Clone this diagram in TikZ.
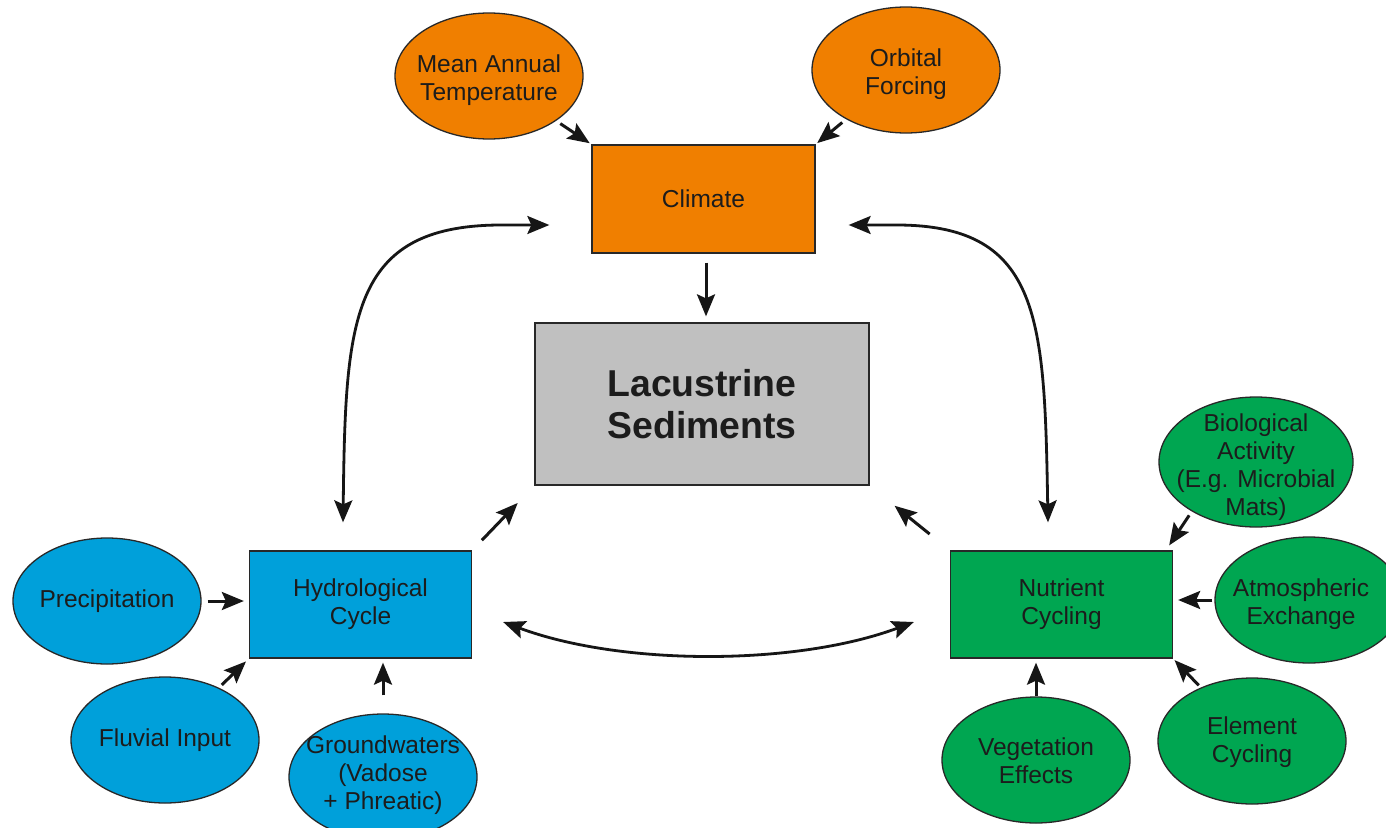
\documentclass[tikz,border=0pt]{standalone}
\usepackage{fontspec}
\setmainfont{Liberation Sans}
\usetikzlibrary{shapes.geometric,arrows.meta,calc}

\definecolor{climorange}{RGB}{240,127,0}
\definecolor{hydroblue}{RGB}{0,160,218}
\definecolor{nutgreen}{RGB}{0,166,81}
\definecolor{sedgray}{RGB}{192,192,192}
\definecolor{edgegray}{RGB}{40,40,40}
\definecolor{ink}{RGB}{28,28,28}
\definecolor{arrowink}{RGB}{22,22,22}

\begin{document}
\begin{tikzpicture}[x=1pt,y=-1pt,
  every node/.style={text=ink, align=center, font=\fontsize{24.5}{28}\selectfont},
  factor/.style={ellipse, draw=edgegray, line width=1.3pt, minimum width=188pt,
                 minimum height=126pt, inner sep=0pt},
  label text/.style={inner sep=0pt},
  process/.style={rectangle, draw=edgegray, line width=1.3pt, minimum width=222pt,
                  minimum height=107pt, inner sep=0pt},
  arr/.style={-{Stealth[length=22pt,width=18pt,inset=4pt]}, line width=3pt, draw=arrowink},
  dblarr/.style={{Stealth[length=22pt,width=18pt,inset=4pt]}-{Stealth[length=22pt,width=18pt,inset=4pt]},
                 line width=2.8pt, draw=arrowink}
]
\useasboundingbox (0,0) rectangle (1386,827);
\clip (0,0) rectangle (1386,827);
\fill[white] (0,0) rectangle (1386,827);

% --- climate block ---
\node[process, fill=climorange, minimum width=223pt, minimum height=108pt] (climate) at (703.5,199) {Climate};
\node[factor, fill=climorange] (mat) at (489,76) {};
\node[label text] (matT) at (489,80) {Mean Annual\\Temperature};
\node[factor, fill=climorange] (orb) at (906,70) {};
\node[label text] (orbT) at (906,74) {Orbital\\Forcing};

% --- central sediments box ---
\node[process, fill=sedgray, minimum width=334pt, minimum height=162pt,
      font=\bfseries\fontsize{37.4}{42}\selectfont] (lac) at (702,404) {Lacustrine\\Sediments};

% --- hydrological block ---
\node[process, fill=hydroblue] (hydro) at (360.5,604.5) {Hydrological\\Cycle};
\node[factor, fill=hydroblue] (precip) at (107,601) {};
\node[label text] (precipT) at (107,601) {Precipitation};
\node[factor, fill=hydroblue] (fluvial) at (165,740) {};
\node[label text] (fluvialT) at (165,740) {Fluvial Input};
\node[factor, fill=hydroblue] (ground) at (383,777) {};
\node[label text] (groundT) at (383,775) {Groundwaters\\(Vadose\\+ Phreatic)};

% --- nutrient block ---
\node[process, fill=nutgreen] (nutrient) at (1061.5,604.5) {Nutrient\\Cycling};
\node[factor, fill=nutgreen, minimum width=194pt, minimum height=130pt] (bio) at (1256,462) {};
\node[label text] (bioT) at (1256,467) {Biological\\Activity\\(E.g. Microbial\\Mats)};
\node[factor, fill=nutgreen] (atmos) at (1309,600) {};
\node[label text] (atmosT) at (1301,604) {Atmospheric\\Exchange};
\node[factor, fill=nutgreen] (element) at (1252,741) {};
\node[label text] (elementT) at (1252,742) {Element\\Cycling};
\node[factor, fill=nutgreen] (veg) at (1036,760) {};
\node[label text] (vegT) at (1036,761) {Vegetation\\Effects};

% --- drivers of climate ---
\draw[arr, shorten <=5pt, shorten >=2pt] (mat) -- (climate.north west);
\draw[arr, shorten <=5pt, shorten >=2pt] (orb) -- (climate.north east);
\draw[arr, shorten <=9pt, shorten >=6pt] ($(climate.south)+(2.5,0)$) -- ($(climate.south |- lac.north)+(2.5,0)$);

% --- flows into the sediments ---
\draw[arr, shorten <=14pt, shorten >=24pt] (hydro.north east) -- (lac.south west);
\draw[arr, shorten <=26pt, shorten >=32pt] (nutrient.north west) -- (lac.south east);

% --- feedback loops between the three systems ---
\draw[dblarr] ($(hydro.north)+(-17.5,-28)$)
   .. controls ($(hydro.north)+(-15,-230)$) and ($(climate.west)+(-242,27)$)
   .. ($(climate.west)+(-92,26)$) -- ($(climate.west)+(-42,26)$);
\draw[dblarr] ($(nutrient.north)+(-13.5,-28)$)
   .. controls ($(nutrient.north)+(-17,-230)$) and ($(climate.east)+(226,27)$)
   .. ($(climate.east)+(83,26)$) -- ($(climate.east)+(33,26)$);
\draw[dblarr] ($(hydro.east)+(31,17.5)$)
   .. controls ($(hydro.east)+(149,61.5)$) and ($(nutrient.west)+(-154,61.5)$)
   .. ($(nutrient.west)+(-36,17.5)$);

% --- inputs to the hydrological cycle ---
\draw[arr, shorten <=6pt, shorten >=5pt] (precip.east) -- (precip.east -| hydro.west);
\draw[arr, shorten <=4pt, shorten >=4pt] (fluvial) -- (hydro.south west);
\draw[arr, shorten <=18pt, shorten >=4pt] (ground.north) -- (ground.north |- hydro.south);

% --- inputs to nutrient cycling ---
\draw[arr] ($(nutrient.north east)+(16,-35)$) -- ($(nutrient.north east)+(-4,-5)$);
\draw[arr, shorten <=2pt, shorten >=5pt] (atmos.west) -- (atmos.west -| nutrient.east);
\draw[arr, shorten <=3pt, shorten >=2pt] (element) -- (nutrient.south east);
\draw[arr, shorten >=4pt] (veg.north) -- (veg.north |- nutrient.south);
\end{tikzpicture}
\end{document}
